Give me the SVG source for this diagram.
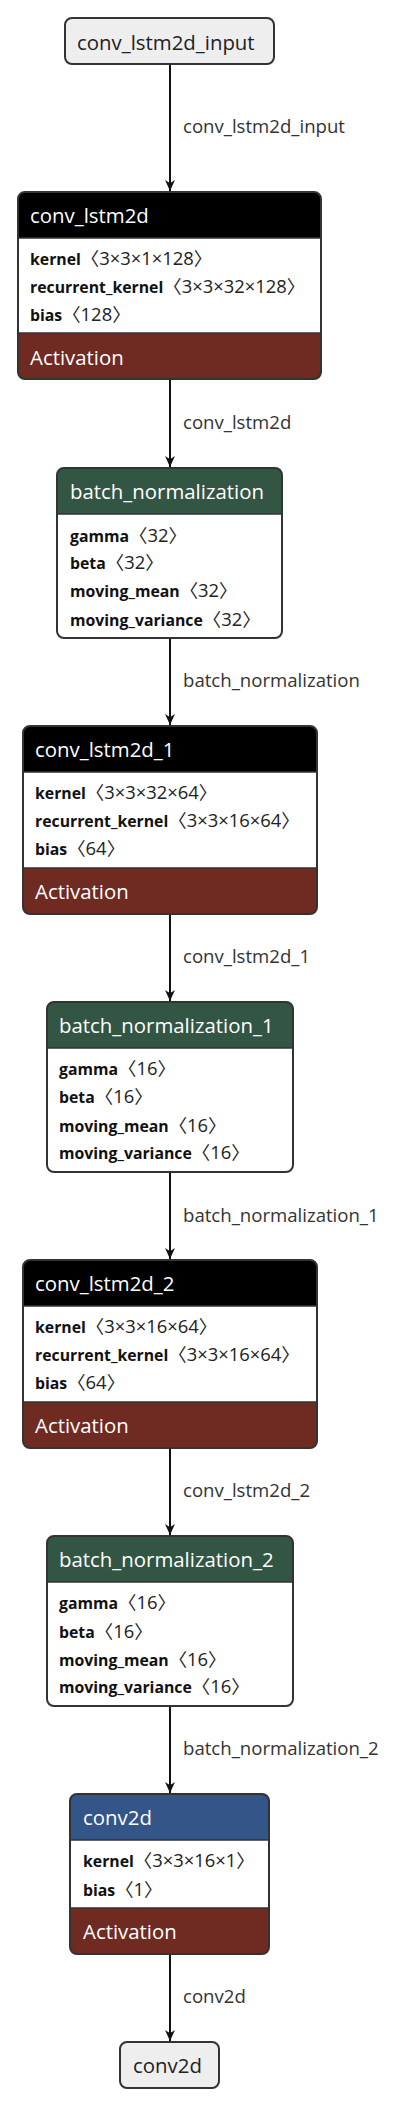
<svg xmlns="http://www.w3.org/2000/svg" width="400" height="2108" viewBox="0 0 400 2108">
<style>
.bg{fill:#fff;}
.outline{fill:none;stroke:#333;stroke-width:2;}
.io{fill:#eee;stroke:#333;stroke-width:2;}
.hdr-black{fill:#000;}
.hdr-norm{fill:#335544;}
.hdr-layer{fill:#335588;}
.act{fill:#6f2a22;}
.sep{stroke:#333;stroke-width:1.5;}
.title{font-family:"Open Sans","Noto Sans",sans-serif;font-size:20.4px;fill:#fff;}
.iotext{font-family:"Open Sans","Noto Sans",sans-serif;font-size:20.4px;fill:#222;}
.attr{font-family:"Open Sans","Noto Sans","Noto Sans CJK SC",sans-serif;font-size:18.4px;fill:#222;}
.attr .n{font-weight:bold;font-size:15.8px;fill:#111;}
.edge{stroke:#111;stroke-width:2;fill:none;}
.elabel{font-family:"Open Sans","Noto Sans",sans-serif;font-size:18.6px;fill:#333;}
</style>
<defs>
<marker id="arrow" viewBox="0 0 10 10" refX="10" refY="5" markerWidth="11" markerHeight="11" markerUnits="userSpaceOnUse" orient="auto">
<path d="M0,0.5 L10,5 L0,9.5 L3,5 Z" fill="#111"/>
</marker>
</defs>

<g id="connectors">
<line class="edge" x1="170" y1="64" x2="170" y2="191" marker-end="url(#arrow)"/>
<text class="elabel" x="183" y="133">conv_lstm2d_input</text>
<line class="edge" x1="170" y1="379" x2="170" y2="467" marker-end="url(#arrow)"/>
<text class="elabel" x="183" y="429">conv_lstm2d</text>
<line class="edge" x1="170" y1="638" x2="170" y2="725" marker-end="url(#arrow)"/>
<text class="elabel" x="183" y="687">batch_normalization</text>
<line class="edge" x1="170" y1="914" x2="170" y2="1001" marker-end="url(#arrow)"/>
<text class="elabel" x="183" y="963">conv_lstm2d_1</text>
<line class="edge" x1="170" y1="1172" x2="170" y2="1259" marker-end="url(#arrow)"/>
<text class="elabel" x="183" y="1222">batch_normalization_1</text>
<line class="edge" x1="170" y1="1448" x2="170" y2="1535" marker-end="url(#arrow)"/>
<text class="elabel" x="183" y="1497">conv_lstm2d_2</text>
<line class="edge" x1="170" y1="1706" x2="170" y2="1793" marker-end="url(#arrow)"/>
<text class="elabel" x="183" y="1755">batch_normalization_2</text>
<line class="edge" x1="170" y1="1954" x2="170" y2="2041" marker-end="url(#arrow)"/>
<text class="elabel" x="183" y="2003">conv2d</text>
</g>

<g id="node-input">
<rect class="io" x="65" y="18" width="209" height="46" rx="7"/>
<text class="iotext" x="77" y="50">conv_lstm2d_input</text>
</g>

<g id="node-conv_lstm2d">
<rect class="bg" x="18" y="192" width="303" height="187" rx="7"/>
<path class="hdr-black" d="M18,238 V199 A7,7 0 0 1 25,192 H314 A7,7 0 0 1 321,199 V238 Z"/>
<path class="act" d="M18,333 V372 A7,7 0 0 0 25,379 H314 A7,7 0 0 0 321,372 V333 Z"/>
<line class="sep" x1="18" y1="238" x2="321" y2="238"/>
<line class="sep" x1="18" y1="333" x2="321" y2="333"/>
<rect class="outline" x="18" y="192" width="303" height="187" rx="7"/>
<text class="title" x="30" y="223">conv_lstm2d</text>
<text class="attr" x="30" y="265"><tspan class="n">kernel</tspan>〈3×3×1×128〉</text>
<text class="attr" x="30" y="293"><tspan class="n">recurrent_kernel</tspan>〈3×3×32×128〉</text>
<text class="attr" x="30" y="321"><tspan class="n">bias</tspan>〈128〉</text>
<text class="title" x="30" y="365">Activation</text>
</g>

<g id="node-batch_normalization">
<rect class="bg" x="57" y="468" width="225" height="170" rx="7"/>
<path class="hdr-norm" d="M57,514 V475 A7,7 0 0 1 64,468 H275 A7,7 0 0 1 282,475 V514 Z"/>
<line class="sep" x1="57" y1="514" x2="282" y2="514"/>
<rect class="outline" x="57" y="468" width="225" height="170" rx="7"/>
<text class="title" x="70" y="499">batch_normalization</text>
<text class="attr" x="70" y="542"><tspan class="n">gamma</tspan>〈32〉</text>
<text class="attr" x="70" y="569"><tspan class="n">beta</tspan>〈32〉</text>
<text class="attr" x="70" y="597"><tspan class="n">moving_mean</tspan>〈32〉</text>
<text class="attr" x="70" y="626"><tspan class="n">moving_variance</tspan>〈32〉</text>
</g>

<g id="node-conv_lstm2d_1">
<rect class="bg" x="23" y="726" width="294" height="188" rx="7"/>
<path class="hdr-black" d="M23,772 V733 A7,7 0 0 1 30,726 H310 A7,7 0 0 1 317,733 V772 Z"/>
<path class="act" d="M23,868 V907 A7,7 0 0 0 30,914 H310 A7,7 0 0 0 317,907 V868 Z"/>
<line class="sep" x1="23" y1="772" x2="317" y2="772"/>
<line class="sep" x1="23" y1="868" x2="317" y2="868"/>
<rect class="outline" x="23" y="726" width="294" height="188" rx="7"/>
<text class="title" x="35" y="757">conv_lstm2d_1</text>
<text class="attr" x="35" y="799"><tspan class="n">kernel</tspan>〈3×3×32×64〉</text>
<text class="attr" x="35" y="827"><tspan class="n">recurrent_kernel</tspan>〈3×3×16×64〉</text>
<text class="attr" x="35" y="855"><tspan class="n">bias</tspan>〈64〉</text>
<text class="title" x="35" y="899">Activation</text>
</g>

<g id="node-batch_normalization_1">
<rect class="bg" x="47" y="1002" width="246" height="170" rx="7"/>
<path class="hdr-norm" d="M47,1048 V1009 A7,7 0 0 1 54,1002 H286 A7,7 0 0 1 293,1009 V1048 Z"/>
<line class="sep" x1="47" y1="1048" x2="293" y2="1048"/>
<rect class="outline" x="47" y="1002" width="246" height="170" rx="7"/>
<text class="title" x="59" y="1033">batch_normalization_1</text>
<text class="attr" x="59" y="1075"><tspan class="n">gamma</tspan>〈16〉</text>
<text class="attr" x="59" y="1103"><tspan class="n">beta</tspan>〈16〉</text>
<text class="attr" x="59" y="1132"><tspan class="n">moving_mean</tspan>〈16〉</text>
<text class="attr" x="59" y="1159"><tspan class="n">moving_variance</tspan>〈16〉</text>
</g>

<g id="node-conv_lstm2d_2">
<rect class="bg" x="23" y="1260" width="294" height="188" rx="7"/>
<path class="hdr-black" d="M23,1306 V1267 A7,7 0 0 1 30,1260 H310 A7,7 0 0 1 317,1267 V1306 Z"/>
<path class="act" d="M23,1402 V1441 A7,7 0 0 0 30,1448 H310 A7,7 0 0 0 317,1441 V1402 Z"/>
<line class="sep" x1="23" y1="1306" x2="317" y2="1306"/>
<line class="sep" x1="23" y1="1402" x2="317" y2="1402"/>
<rect class="outline" x="23" y="1260" width="294" height="188" rx="7"/>
<text class="title" x="35" y="1291">conv_lstm2d_2</text>
<text class="attr" x="35" y="1333"><tspan class="n">kernel</tspan>〈3×3×16×64〉</text>
<text class="attr" x="35" y="1361"><tspan class="n">recurrent_kernel</tspan>〈3×3×16×64〉</text>
<text class="attr" x="35" y="1389"><tspan class="n">bias</tspan>〈64〉</text>
<text class="title" x="35" y="1433">Activation</text>
</g>

<g id="node-batch_normalization_2">
<rect class="bg" x="47" y="1536" width="246" height="170" rx="7"/>
<path class="hdr-norm" d="M47,1582 V1543 A7,7 0 0 1 54,1536 H286 A7,7 0 0 1 293,1543 V1582 Z"/>
<line class="sep" x1="47" y1="1582" x2="293" y2="1582"/>
<rect class="outline" x="47" y="1536" width="246" height="170" rx="7"/>
<text class="title" x="59" y="1567">batch_normalization_2</text>
<text class="attr" x="59" y="1609"><tspan class="n">gamma</tspan>〈16〉</text>
<text class="attr" x="59" y="1638"><tspan class="n">beta</tspan>〈16〉</text>
<text class="attr" x="59" y="1666"><tspan class="n">moving_mean</tspan>〈16〉</text>
<text class="attr" x="59" y="1693"><tspan class="n">moving_variance</tspan>〈16〉</text>
</g>

<g id="node-conv2d">
<rect class="bg" x="70" y="1794" width="199" height="160" rx="7"/>
<path class="hdr-layer" d="M70,1840 V1801 A7,7 0 0 1 77,1794 H262 A7,7 0 0 1 269,1801 V1840 Z"/>
<path class="act" d="M70,1908 V1947 A7,7 0 0 0 77,1954 H262 A7,7 0 0 0 269,1947 V1908 Z"/>
<line class="sep" x1="70" y1="1840" x2="269" y2="1840"/>
<line class="sep" x1="70" y1="1908" x2="269" y2="1908"/>
<rect class="outline" x="70" y="1794" width="199" height="160" rx="7"/>
<text class="title" x="83" y="1825">conv2d</text>
<text class="attr" x="83" y="1867"><tspan class="n">kernel</tspan>〈3×3×16×1〉</text>
<text class="attr" x="83" y="1896"><tspan class="n">bias</tspan>〈1〉</text>
<text class="title" x="83" y="1939">Activation</text>
</g>

<g id="node-output">
<rect class="io" x="120" y="2042" width="99" height="46" rx="7"/>
<text class="iotext" x="133" y="2073">conv2d</text>
</g>
</svg>
